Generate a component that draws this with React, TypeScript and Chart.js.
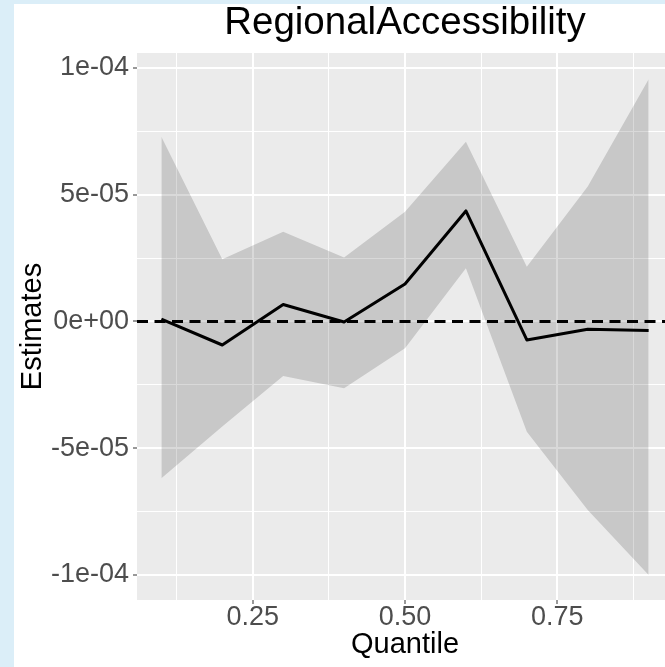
import React, { useEffect, useRef } from "react";
import { Chart, registerables } from "chart.js";

Chart.register(...registerables);

// ---- data ----
const quantiles = [0.1, 0.2, 0.3, 0.4, 0.5, 0.6, 0.7, 0.8, 0.9];
const estimates = [0.9e-6, -9.3e-6, 6.7e-6, -0.2e-6, 14.8e-6, 43.6e-6, -7.3e-6, -3.1e-6, -3.6e-6];
const upperCI = [72.9e-6, 24.5e-6, 35.4e-6, 25.2e-6, 43.3e-6, 70.9e-6, 21.6e-6, 53.2e-6, 95.5e-6];
const lowerCI = [-61.9e-6, -41.5e-6, -21.5e-6, -26.4e-6, -10.6e-6, 21.0e-6, -43.5e-6, -74.4e-6, -100.0e-6];

const xMajorTicks = [0.25, 0.5, 0.75];
const xMajorLabels = ["0.25", "0.50", "0.75"];
const xMinorTicks = [0.125, 0.375, 0.625, 0.875];
const yMajorTicks = [-1e-4, -5e-5, 0, 5e-5, 1e-4];
const yMajorLabels = ["-1e-04", "-5e-05", "0e+00", "5e-05", "1e-04"];
const yMinorTicks = [-7.5e-5, -2.5e-5, 2.5e-5, 7.5e-5];
const referenceLevel = 0;
const xLimits = [0.06, 0.94];
const yLimits = [-1.099e-4, 1.059e-4];

const chartTitle = "RegionalAccessibility";
const xTitle = "Quantile";
const yTitle = "Estimates";

const FONT = "'Liberation Sans', Arial, Helvetica, sans-serif";

const near = (a: number, b: number) => Math.abs(a - b) < 1e-9;
const isMajor = (v: number, majors: number[]) => majors.some((m) => near(m, v));
const labelFor = (v: number, majors: number[], labels: string[]) => {
  const i = majors.findIndex((m) => near(m, v));
  return i >= 0 ? labels[i] : "";
};

const backgroundPlugin = {
  id: "ggBackground",
  beforeDraw(chart: any) {
    const { ctx, chartArea, width, height } = chart;
    ctx.save();
    ctx.fillStyle = "#dbeef8";
    ctx.fillRect(0, 0, width, height);
    ctx.fillStyle = "#ffffff";
    ctx.fillRect(14, 4, width - 14, height - 4);
    ctx.fillStyle = "#ebebeb";
    ctx.fillRect(
      chartArea.left,
      chartArea.top,
      chartArea.right - chartArea.left,
      chartArea.bottom - chartArea.top
    );
    ctx.restore();
  },
};

export default function App() {
  const canvasRef = useRef<HTMLCanvasElement | null>(null);

  useEffect(() => {
    const canvas = canvasRef.current;
    if (!canvas) return;

    const gridFor = (majors: number[]) => ({
      display: true,
      drawOnChartArea: true,
      drawTicks: true,
      tickLength: 4,
      color: "#ffffff",
      lineWidth: (ctx: any) => (ctx.tick && isMajor(ctx.tick.value, majors) ? 2 : 1),
      tickColor: (ctx: any) =>
        ctx.tick && isMajor(ctx.tick.value, majors) ? "#333333" : "rgba(0,0,0,0)",
      tickWidth: 1,
    });

    const chart = new Chart(canvas, {
      type: "line",
      data: {
        datasets: [
          {
            label: "Estimate",
            data: quantiles.map((q, i) => ({ x: q, y: estimates[i] })),
            borderColor: "#000000",
            borderWidth: 3,
            pointRadius: 0,
            fill: false,
            tension: 0,
            borderJoinStyle: "round",
          },
          {
            label: "Reference",
            data: xLimits.map((x) => ({ x, y: referenceLevel })),
            borderColor: "#000000",
            borderWidth: 3,
            borderDash: [11, 6.5],
            pointRadius: 0,
            fill: false,
          },
          {
            label: "Upper",
            data: quantiles.map((q, i) => ({ x: q, y: upperCI[i] })),
            borderColor: "rgba(0,0,0,0)",
            borderWidth: 0,
            backgroundColor: "rgba(0,0,0,0.15)",
            pointRadius: 0,
            fill: "+1",
            tension: 0,
          },
          {
            label: "Lower",
            data: quantiles.map((q, i) => ({ x: q, y: lowerCI[i] })),
            borderColor: "rgba(0,0,0,0)",
            borderWidth: 0,
            pointRadius: 0,
            fill: false,
            tension: 0,
          },
        ],
      },
      options: {
        responsive: false,
        animation: false,
        devicePixelRatio: 1,
        events: [],
        layout: { padding: 0 },
        plugins: {
          legend: { display: false },
          tooltip: { enabled: false },
          title: {
            display: true,
            text: chartTitle,
            color: "#000000",
            font: { family: FONT, size: 38.5, weight: "normal", lineHeight: 1.2 },
            padding: { top: 0.3, bottom: 6.5 },
          },
        },
        scales: {
          x: {
            type: "linear",
            position: "bottom",
            min: xLimits[0],
            max: xLimits[1],
            afterBuildTicks: (s: any) => {
              s.ticks = [...xMajorTicks, ...xMinorTicks]
                .sort((a, b) => a - b)
                .map((v) => ({ value: v }));
            },
            afterFit: (s: any) => {
              s.height = 67;
            },
            ticks: {
              autoSkip: false,
              maxRotation: 0,
              minRotation: 0,
              padding: 0.5,
              color: "#4d4d4d",
              font: { family: FONT, size: 27, lineHeight: 1 },
              callback: (v: any) => labelFor(Number(v), xMajorTicks, xMajorLabels),
            },
            grid: gridFor(xMajorTicks),
            border: { display: false },
            title: {
              display: true,
              text: xTitle,
              color: "#000000",
              font: { family: FONT, size: 29, lineHeight: 1.2 },
              padding: { top: 0, bottom: 4.6 },
            },
          },
          y: {
            type: "linear",
            position: "left",
            min: yLimits[0],
            max: yLimits[1],
            afterBuildTicks: (s: any) => {
              s.ticks = [...yMajorTicks, ...yMinorTicks]
                .sort((a, b) => a - b)
                .map((v) => ({ value: v }));
            },
            afterFit: (s: any) => {
              s.width = 137;
            },
            ticks: {
              padding: 4,
              color: "#4d4d4d",
              font: { family: FONT, size: 27, lineHeight: 1 },
              callback: (v: any) => labelFor(Number(v), yMajorTicks, yMajorLabels),
            },
            grid: gridFor(yMajorTicks),
            border: { display: false },
            title: {
              display: true,
              text: yTitle,
              color: "#000000",
              font: { family: FONT, size: 29, lineHeight: 1.2 },
              padding: { top: 16, bottom: 0 },
            },
          },
          y2: {
            type: "linear",
            position: "right",
            display: true,
            min: yLimits[0],
            max: yLimits[1],
            afterFit: (s: any) => {
              s.width = 137;
            },
            ticks: { display: false },
            grid: { display: false, drawTicks: false },
            border: { display: false },
          },
        },
      },
      plugins: [backgroundPlugin],
    } as any);

    return () => chart.destroy();
  }, []);

  return (
    <div
      style={{
        position: "fixed",
        left: 0,
        top: 0,
        width: 665,
        height: 667,
        overflow: "hidden",
      }}
    >
      <canvas
        ref={canvasRef}
        width={810}
        height={667}
        style={{ display: "block", width: 810, height: 667 }}
      />
    </div>
  );
}
